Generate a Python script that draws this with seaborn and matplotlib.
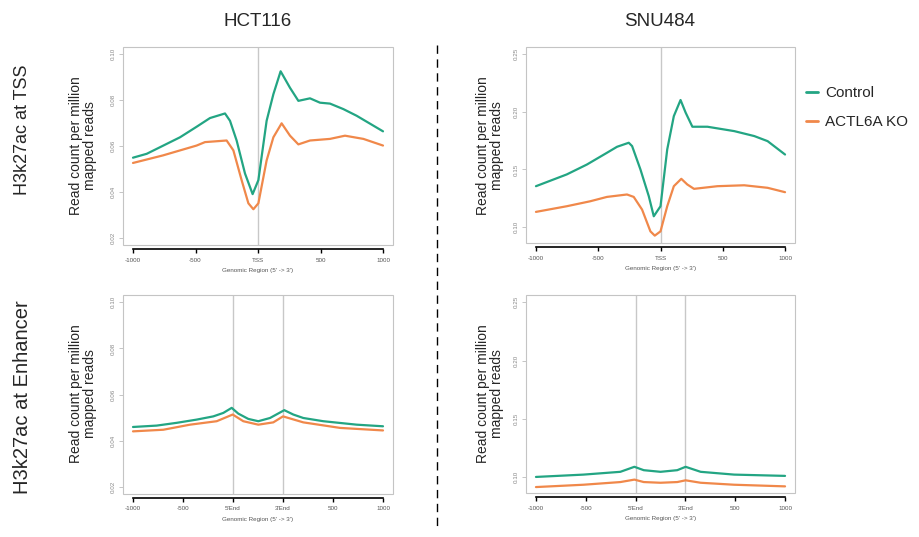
import matplotlib
matplotlib.use("Agg")
import matplotlib.pyplot as plt
import matplotlib.patches as mpatches
from matplotlib.lines import Line2D
import pandas as pd
import seaborn as sns

TEAL = "#23a583"
ORANGE = "#f0884a"

# ---- HCT116, TSS ----
hct_tss_ctrl_x = [-1000, -890, -624, -491, -384, -264, -224, -171, -104, -43, 3, 69, 123, 181,
                  256, 323, 416, 496, 576, 683, 789, 1000]
hct_tss_ctrl_y = [0.0549, 0.0566, 0.0638, 0.0684, 0.0722, 0.0742, 0.0710, 0.0624, 0.0480, 0.0390,
                  0.0451, 0.0710, 0.0826, 0.0926, 0.0854, 0.0797, 0.0808, 0.0789, 0.0785, 0.0761,
                  0.0732, 0.0664]
hct_tss_ko_x = [-1000, -760, -491, -424, -251, -197, -131, -77, -37, 3, 69, 123, 189, 256, 323,
                416, 576, 696, 843, 1000]
hct_tss_ko_y = [0.0526, 0.0559, 0.0602, 0.0617, 0.0624, 0.0581, 0.0451, 0.0350, 0.0324, 0.0350,
                0.0537, 0.0638, 0.0699, 0.0645, 0.0607, 0.0624, 0.0631, 0.0645, 0.0631, 0.0602]

# ---- SNU484, TSS ----
snu_tss_ctrl_x = [-1000, -753, -591, -430, -349, -255, -228, -161, -94, -54, 0, 54, 107, 161,
                  202, 256, 377, 592, 753, 860, 1000]
snu_tss_ctrl_y = [0.1355, 0.1457, 0.1543, 0.1645, 0.1697, 0.1732, 0.1703, 0.1500, 0.1268, 0.1094,
                  0.1181, 0.1674, 0.1963, 0.2103, 0.1993, 0.1871, 0.1871, 0.1833, 0.1790, 0.1746,
                  0.1630]
snu_tss_ko_x = [-1000, -753, -565, -430, -269, -215, -148, -81, -46, 0, 54, 107, 167, 215, 269,
                457, 672, 860, 1000]
snu_tss_ko_y = [0.1132, 0.1181, 0.1224, 0.1262, 0.1283, 0.1262, 0.1152, 0.0963, 0.0926, 0.0963,
                0.1181, 0.1355, 0.1419, 0.1370, 0.1332, 0.1355, 0.1363, 0.1341, 0.1303]

# ---- HCT116, enhancer (scaled region: 5'End at 0, 3'End at 500) ----
hct_enh_ctrl_x = [-1000, -763, -563, -363, -197, -97, -13, 53, 153, 253, 370, 513, 603, 703, 903,
                  1237, 1500]
hct_enh_ctrl_y = [0.0459, 0.0465, 0.0477, 0.0491, 0.0505, 0.0520, 0.0542, 0.0517, 0.0494, 0.0484,
                  0.0498, 0.0532, 0.0513, 0.0498, 0.0484, 0.0469, 0.0462]
hct_enh_ko_x = [-1000, -697, -430, -163, -3, 103, 253, 403, 500, 703, 1070, 1500]
hct_enh_ko_y = [0.0440, 0.0447, 0.0469, 0.0484, 0.0513, 0.0484, 0.0469, 0.0479, 0.0505, 0.0479,
                0.0455, 0.0444]

# ---- SNU484, enhancer ----
snu_enh_x = [-1000, -523, -153, -12, 82, 250, 418, 502, 653, 989, 1500]
snu_enh_ctrl_y = [0.1000, 0.1020, 0.1044, 0.1087, 0.1058, 0.1044, 0.1058, 0.1087, 0.1044, 0.1020,
                  0.1009]
snu_enh_ko_y = [0.0913, 0.0933, 0.0956, 0.0977, 0.0956, 0.0950, 0.0956, 0.0971, 0.0950, 0.0933,
                0.0919]

tss_ticks = [-1000, -500, 0, 500, 1000]
tss_labels = ["-1000", "-500", "TSS", "500", "1000"]
enh_ticks = [-1000, -500, 0, 500, 1000, 1500]
enh_labels = ["-1000", "-500", "5'End", "3'End", "500", "1000"]
hct_yticks = [0.02, 0.04, 0.06, 0.08, 0.10]
snu_yticks = [0.10, 0.15, 0.20, 0.25]


def make_df(cx, cy, kx, ky):
    a = pd.DataFrame({"pos": cx, "value": cy, "cond": "Control"})
    b = pd.DataFrame({"pos": kx, "value": ky, "cond": "ACTL6A KO"})
    return pd.concat([a, b], ignore_index=True)


def r_style(ax, xticks, xlabels, yticks, ylim, vlines):
    for v in vlines:
        ax.axvline(v, color="#c8c8c8", lw=1.0, zorder=0)
    lo, hi = xticks[0], xticks[-1]
    pad = (hi - lo) * 0.04
    ax.set_xlim(lo - pad, hi + pad)
    ypad = (ylim[1] - ylim[0]) * 0.04
    ax.set_ylim(ylim[0] - ypad, ylim[1] + ypad)
    for s in ["top", "right", "left"]:
        ax.spines[s].set_visible(False)
    ax.spines["bottom"].set_position(("outward", 3))
    ax.spines["bottom"].set_bounds(lo, hi)
    ax.spines["bottom"].set_color("black")
    ax.spines["bottom"].set_linewidth(1.2)
    ax.add_patch(mpatches.Rectangle((0, 0), 1, 1, transform=ax.transAxes, fill=False,
                                    edgecolor="#c4c4c4", lw=0.8, clip_on=False))
    ax.set_xticks(xticks)
    ax.set_xticklabels(xlabels)
    ax.set_yticks(yticks)
    ax.set_yticklabels([f"{t:.2f}" for t in yticks], rotation=90, va="center")
    ax.tick_params(axis="x", length=3, width=1, color="black", labelsize=4.5,
                   labelcolor="#555555", pad=3, bottom=True)
    ax.tick_params(axis="y", length=3, width=0.6, color="#bbbbbb", labelsize=4.5,
                   labelcolor="#888888", pad=2, left=True)
    ax.set_xlabel("Genomic Region (5' -> 3')", fontsize=4.5, color="#555555", labelpad=4)
    ax.set_ylabel("")
    ax.grid(False)


sns.set_theme(style="white")
plt.rcParams["font.family"] = ["Liberation Sans", "DejaVu Sans"]

fig = plt.figure(figsize=(9.19, 5.37), dpi=100)
W, H = 919, 537


def add_ax(l, t, r, b):
    return fig.add_axes([l / W, 1 - b / H, (r - l) / W, (b - t) / H])


ax_tl = add_ax(123, 47, 393, 245)
ax_tr = add_ax(526, 47, 795, 243)
ax_bl = add_ax(123, 295, 393, 494)
ax_br = add_ax(526, 295, 795, 493)

pal = {"Control": TEAL, "ACTL6A KO": ORANGE}
panels = [
    (ax_tl, make_df(hct_tss_ctrl_x, hct_tss_ctrl_y, hct_tss_ko_x, hct_tss_ko_y),
     tss_ticks, tss_labels, hct_yticks, (0.02, 0.10), [0]),
    (ax_tr, make_df(snu_tss_ctrl_x, snu_tss_ctrl_y, snu_tss_ko_x, snu_tss_ko_y),
     tss_ticks, tss_labels, snu_yticks, (0.0925, 0.25), [0]),
    (ax_bl, make_df(hct_enh_ctrl_x, hct_enh_ctrl_y, hct_enh_ko_x, hct_enh_ko_y),
     enh_ticks, enh_labels, hct_yticks, (0.02, 0.10), [0, 500]),
    (ax_br, make_df(snu_enh_x, snu_enh_ctrl_y, snu_enh_x, snu_enh_ko_y),
     enh_ticks, enh_labels, snu_yticks, (0.0925, 0.25), [0, 500]),
]
for ax, df, xt, xl, yt, yl, vl in panels:
    sns.lineplot(data=df, x="pos", y="value", hue="cond", palette=pal, ax=ax,
                 legend=False, lw=1.6, sort=True)
    r_style(ax, xt, xl, yt, yl, vl)

ylab = "Read count per million\nmapped reads"
for x, y in [(83, 146), (490, 146), (83, 394), (490, 394)]:
    fig.text(x / W, 1 - y / H, ylab, rotation=90, ha="center", va="center",
             fontsize=10, linespacing=1.05)

fig.text(23 / W, 1 - 130 / H, "H3k27ac at TSS", rotation=90, ha="center", va="center",
         fontsize=13)
fig.text(23 / W, 1 - 397 / H, "H3k27ac at Enhancer", rotation=90, ha="center", va="center",
         fontsize=14.5)

title_font = ["Liberation Sans Narrow", "Liberation Sans", "DejaVu Sans"]
fig.text(258 / W, 1 - 22 / H, "HCT116", ha="center", va="center", fontsize=13.5,
         family=title_font)
fig.text(660 / W, 1 - 22 / H, "SNU484", ha="center", va="center", fontsize=13.5,
         family=title_font)

fig.add_artist(Line2D([437 / W, 437 / W], [1 - 45 / H, 1 - 530 / H], transform=fig.transFigure,
                      color="black", lw=1.0, ls=(0, (6, 4))))

handles = [Line2D([], [], color=TEAL, lw=2), Line2D([], [], color=ORANGE, lw=2)]
fig.legend(handles, ["Control", "ACTL6A KO"], loc="upper left",
           bbox_to_anchor=(806 / W, 1 - 86 / H), frameon=False, fontsize=11,
           handlelength=0.8, handletextpad=0.45, labelspacing=1.0,
           borderpad=0, borderaxespad=0)

fig.savefig("out.png", dpi=100)
